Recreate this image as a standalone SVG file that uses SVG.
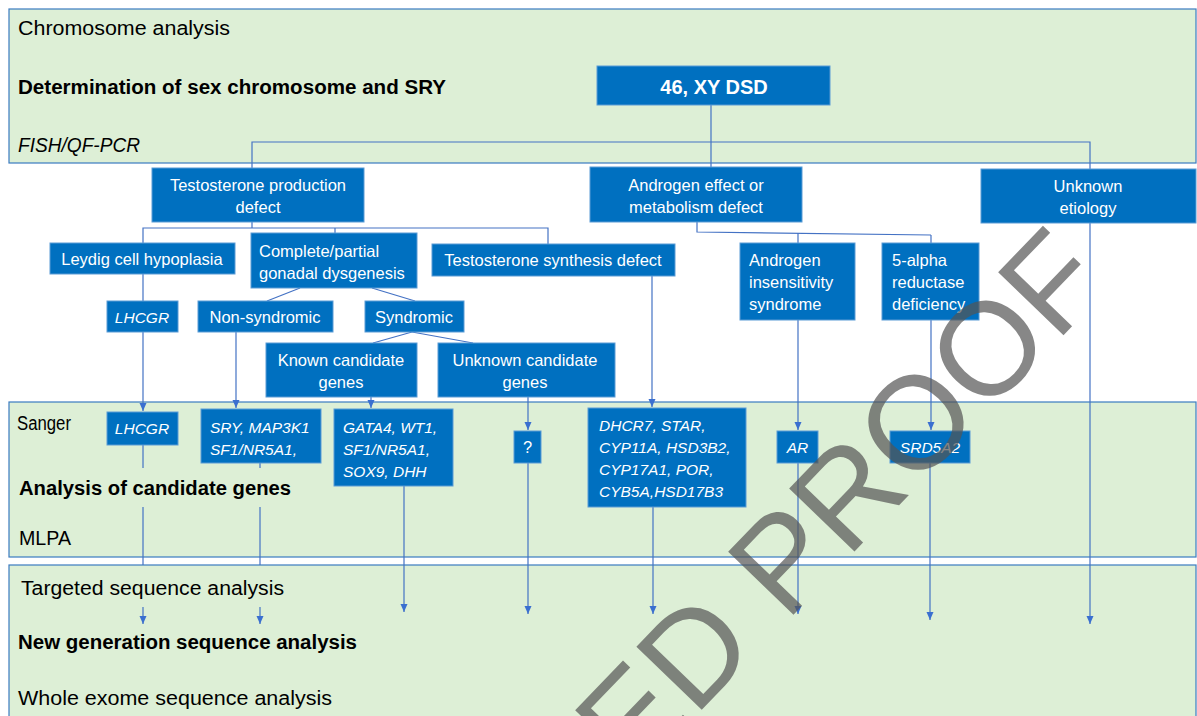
<svg xmlns="http://www.w3.org/2000/svg" width="1197" height="716" viewBox="0 0 1197 716">
<style>
.band{fill:#DDEFD6;stroke:#3A7BC0;stroke-width:1.2}
.lbl{font-family:"Liberation Sans",Arial,sans-serif;font-size:20px;fill:#000}
.b{font-weight:bold}
.i{font-style:italic}
.box{fill:#0070C0;stroke:#5B9BD5;stroke-width:1}
.t{font-family:"Liberation Sans",Arial,sans-serif;font-size:16.5px;fill:#fff}
.g{font-family:"Liberation Sans",Arial,sans-serif;font-size:15.5px;font-style:italic;fill:#fff}
.c{text-anchor:middle}
.ln{fill:none;stroke:#4472C4;stroke-width:1.2}
.ar{marker-end:url(#ah)}
.wm{font-family:"Liberation Sans",Arial,sans-serif;font-size:132px;fill:#555;opacity:0.7}
</style>
<defs>
<marker id="ah" markerUnits="userSpaceOnUse" markerWidth="9" markerHeight="8" refX="8" refY="3.5" orient="auto">
<path d="M0,0 L8,3.5 L0,7 z" fill="#3A6FD0"/>
</marker>
</defs>

<g id="bands">
<rect class="band" x="9" y="9" width="1187" height="154"/>
<rect class="band" x="9" y="402" width="1187" height="155"/>
<rect class="band" x="9" y="565" width="1187" height="170"/>
<text class="lbl" x="18" y="35" textLength="212" lengthAdjust="spacingAndGlyphs">Chromosome analysis</text>
<text class="lbl b" x="18" y="94" textLength="428" lengthAdjust="spacingAndGlyphs">Determination of sex chromosome and SRY</text>
<text class="lbl i" x="18" y="152" textLength="122" lengthAdjust="spacingAndGlyphs">FISH/QF-PCR</text>
<text class="lbl" x="17" y="430" textLength="54" lengthAdjust="spacingAndGlyphs">Sanger</text>
<text class="lbl b" x="19" y="495" textLength="272" lengthAdjust="spacingAndGlyphs">Analysis of candidate genes</text>
<text class="lbl" x="19" y="545" textLength="52" lengthAdjust="spacingAndGlyphs">MLPA</text>
<text class="lbl" x="21" y="595" textLength="263" lengthAdjust="spacingAndGlyphs">Targeted sequence analysis</text>
<text class="lbl b" x="18" y="649" textLength="339" lengthAdjust="spacingAndGlyphs">New generation sequence analysis</text>
<text class="lbl" x="18" y="705" textLength="314" lengthAdjust="spacingAndGlyphs">Whole exome sequence analysis</text>
</g>

<g id="connectors">
<path class="ln" d="M711,105 V167"/>
<path class="ln" d="M252,168 V142 H1090 V169"/>
<path class="ln" d="M252,222 V228"/>
<path class="ln" d="M143,243 V228 H548 V244"/>
<path class="ln" d="M335,228 V233"/>
<path class="ln ar" d="M143,274 V411"/>
<path class="ln" d="M300,288 L267,301"/>
<path class="ln" d="M372,288 L415,301"/>
<path class="ln ar" d="M236,332 V408"/>
<path class="ln" d="M412,332 L373,343"/>
<path class="ln" d="M412,332 L473,343"/>
<path class="ln ar" d="M371,397 V408"/>
<path class="ln ar" d="M528,397 V430"/>
<path class="ln ar" d="M652,276 V407"/>
<path class="ln" d="M697,222 V232 L931,235"/>
<path class="ln ar" d="M798,233 V430"/>
<path class="ln ar" d="M931,235 V430"/>
<path class="ln" d="M143,445 V468 M143,507 V565"/>
<path class="ln ar" d="M143,607 V624"/>
<path class="ln" d="M260,463 V468 M260,507 V565"/>
<path class="ln ar" d="M260,607 V624"/>
<path class="ln ar" d="M404,486 V612"/>
<path class="ln ar" d="M528,463 V614"/>
<path class="ln ar" d="M653,507 V614"/>
<path class="ln ar" d="M798,463 V614"/>
<path class="ln ar" d="M930,463 V620"/>
<path class="ln ar" d="M1090,223 V624"/>
</g>

<g id="n-dsd"><rect class="box" x="597" y="66" width="233" height="39"/><text class="t b c" x="714" y="94" style="font-size:20px">46, XY DSD</text></g>
<g id="n-tpd"><rect class="box" x="152" y="168" width="212" height="54"/><text class="t c" x="258" y="191">Testosterone production</text><text class="t c" x="258" y="213">defect</text></g>
<g id="n-aemd"><rect class="box" x="590" y="167" width="212" height="55"/><text class="t c" x="696" y="191">Androgen effect or</text><text class="t c" x="696" y="213">metabolism defect</text></g>
<g id="n-ue"><rect class="box" x="981" y="169" width="215" height="54"/><text class="t c" x="1088" y="192">Unknown</text><text class="t c" x="1088" y="214">etiology</text></g>
<g id="n-leydig"><rect class="box" x="50" y="243" width="185" height="31"/><text class="t c" x="142" y="265">Leydig cell hypoplasia</text></g>
<g id="n-cpgd"><rect class="box" x="251" y="233" width="166" height="55"/><text class="t" x="259" y="257">Complete/partial</text><text class="t" x="259" y="279">gonadal dysgenesis</text></g>
<g id="n-tsd"><rect class="box" x="432" y="244" width="243" height="32"/><text class="t c" x="553" y="266">Testosterone synthesis defect</text></g>
<g id="n-ais"><rect class="box" x="740" y="243" width="115" height="77"/><text class="t" x="749" y="266">Androgen</text><text class="t" x="749" y="288">insensitivity</text><text class="t" x="749" y="310">syndrome</text></g>
<g id="n-5ard"><rect class="box" x="882" y="243" width="97" height="77"/><text class="t" x="892" y="266">5-alpha</text><text class="t" x="892" y="288">reductase</text><text class="t" x="892" y="310">deficiency</text></g>
<g id="n-lhcgr1"><rect class="box" x="107" y="301" width="71" height="31"/><text class="g c" x="142" y="323">LHCGR</text></g>
<g id="n-nonsyn"><rect class="box" x="198" y="301" width="135" height="31"/><text class="t c" x="265" y="323">Non-syndromic</text></g>
<g id="n-syn"><rect class="box" x="365" y="301" width="99" height="31"/><text class="t c" x="414" y="323">Syndromic</text></g>
<g id="n-kcg"><rect class="box" x="266" y="343" width="151" height="54"/><text class="t c" x="341" y="366">Known candidate</text><text class="t c" x="341" y="388">genes</text></g>
<g id="n-ucg"><rect class="box" x="438" y="343" width="177" height="54"/><text class="t c" x="525" y="366">Unknown candidate</text><text class="t c" x="525" y="388">genes</text></g>
<g id="n-lhcgr2"><rect class="box" x="107" y="412" width="71" height="33"/><text class="g c" x="142" y="434">LHCGR</text></g>
<g id="n-sry"><rect class="box" x="201" y="409" width="120" height="54"/><text class="g" x="210" y="433">SRY, MAP3K1</text><text class="g" x="210" y="455">SF1/NR5A1,</text></g>
<g id="n-gata4"><rect class="box" x="334" y="409" width="119" height="77"/><text class="g" x="343" y="433">GATA4, WT1,</text><text class="g" x="343" y="455">SF1/NR5A1,</text><text class="g" x="343" y="477">SOX9, DHH</text></g>
<g id="n-q"><rect class="box" x="514" y="431" width="27" height="32"/><text class="t c" x="527.5" y="453">?</text></g>
<g id="n-dhcr7"><rect class="box" x="588" y="408" width="158" height="99"/><text class="g" x="599" y="431">DHCR7, STAR,</text><text class="g" x="599" y="453">CYP11A, HSD3B2,</text><text class="g" x="599" y="475">CYP17A1, POR,</text><text class="g" x="599" y="497">CYB5A,HSD17B3</text></g>
<g id="n-ar"><rect class="box" x="777" y="431" width="41" height="32"/><text class="g c" x="797.5" y="453">AR</text></g>
<g id="n-srd5a2"><rect class="box" x="890" y="431" width="80" height="32"/><text class="g c" x="930" y="453">SRD5A2</text></g>

<g id="watermark"><text class="wm" text-anchor="end" transform="translate(1112,285) rotate(-46)">ED PROOF</text></g>
</svg>
